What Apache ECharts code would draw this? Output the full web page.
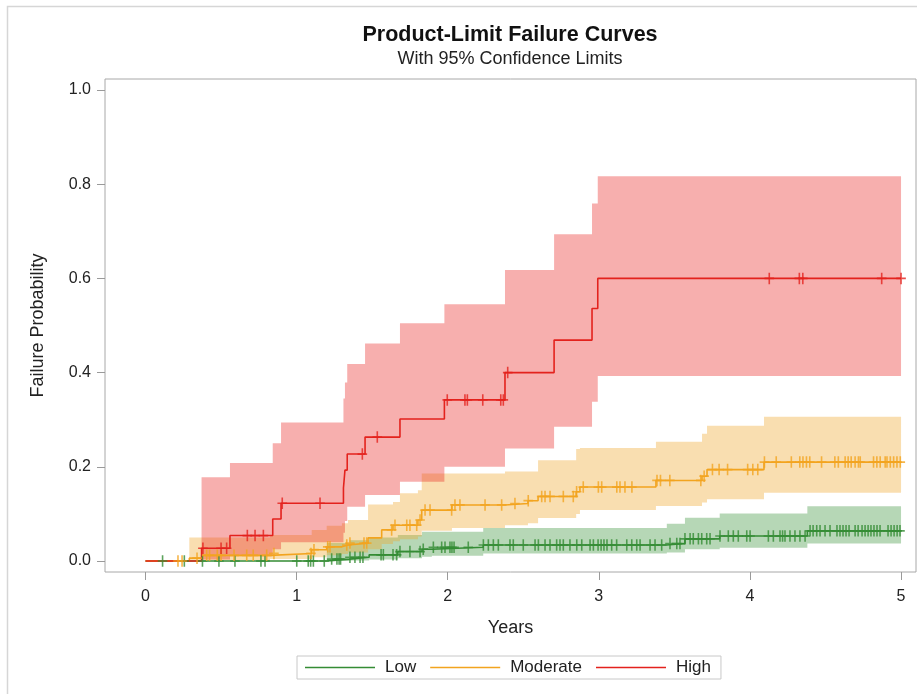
<!DOCTYPE html>
<html>
<head>
<meta charset="utf-8">
<title>Product-Limit Failure Curves</title>
<script src="https://cdn.jsdelivr.net/npm/echarts@6/dist/echarts.min.js"></script>
<style>
    html, body { margin: 0; padding: 0; background: #fff; }
    #chart { width: 917px; height: 694px; }
</style>
</head>
<body>
<div id="chart"></div>
<script>
// step points: time (years), failure estimate, 95% limits
var lowTime  = [0, 1.20, 1.35, 1.48, 1.67, 1.83, 1.895, 2.235, 3.45, 3.57, 3.80, 4.38, 5.0];
var lowFail  = [0, 0.004, 0.008, 0.013, 0.020, 0.025, 0.029, 0.034, 0.037, 0.047, 0.053, 0.064, 0.064];
var lowLower = [0, 0.000, 0.001, 0.003, 0.006, 0.009, 0.011, 0.016, 0.018, 0.025, 0.028, 0.037, 0.037];
var lowUpper = [0, 0.038, 0.044, 0.050, 0.055, 0.062, 0.062, 0.070, 0.079, 0.092, 0.101, 0.116, 0.116];

var modTime  = [0, 0.29, 0.372, 0.824, 1.10, 1.199, 1.30, 1.34, 1.473, 1.563, 1.638, 1.684, 1.803, 1.828, 2.028, 2.379, 2.531, 2.598, 2.85, 2.875, 3.378, 3.683, 3.716, 4.093, 5.0];
var modFail  = [0, 0.006, 0.012, 0.016, 0.024, 0.030, 0.034, 0.038, 0.049, 0.066, 0.076, 0.076, 0.087, 0.108, 0.119, 0.122, 0.128, 0.137, 0.147, 0.157, 0.171, 0.180, 0.194, 0.210, 0.210];
var modLower = [0, 0.001, 0.002, 0.004, 0.008, 0.012, 0.015, 0.018, 0.025, 0.036, 0.042, 0.046, 0.052, 0.064, 0.070, 0.076, 0.080, 0.091, 0.100, 0.108, 0.117, 0.124, 0.131, 0.145, 0.145];
var modUpper = [0, 0.050, 0.050, 0.055, 0.066, 0.075, 0.080, 0.087, 0.120, 0.120, 0.125, 0.144, 0.150, 0.186, 0.186, 0.190, 0.190, 0.214, 0.238, 0.240, 0.253, 0.270, 0.287, 0.306, 0.306];

var highTime  = [0, 0.371, 0.559, 0.842, 0.897, 1.31, 1.32, 1.335, 1.453, 1.684, 1.978, 2.379, 2.704, 2.955, 2.993, 5.0];
var highFail  = [0, 0.027, 0.054, 0.089, 0.1225, 0.155, 0.193, 0.227, 0.263, 0.3015, 0.342, 0.400, 0.469, 0.536, 0.600, 0.600];
var highLower = [0, 0.003, 0.010, 0.025, 0.040, 0.060, 0.085, 0.115, 0.140, 0.168, 0.200, 0.239, 0.285, 0.338, 0.393, 0.393];
var highUpper = [0, 0.178, 0.208, 0.250, 0.294, 0.345, 0.379, 0.418, 0.462, 0.505, 0.545, 0.618, 0.694, 0.759, 0.817, 0.817];

// censored times
var lowCensor = [0.113, 0.257, 0.377, 0.486, 0.592, 0.764, 0.791, 1.001, 1.077, 1.093, 1.111, 1.183, 1.232, 1.267, 1.281, 1.291,
    1.353, 1.386, 1.42, 1.439, 1.559, 1.574, 1.638, 1.662, 1.684, 1.75, 1.817, 1.838, 1.905, 1.96, 1.982, 2.015, 2.028, 2.042,
    2.136, 2.236, 2.269, 2.302, 2.335, 2.412, 2.434, 2.5, 2.578, 2.6, 2.644, 2.677, 2.721, 2.743, 2.765, 2.809, 2.854, 2.887,
    2.942, 2.964, 2.995, 3.015, 3.034, 3.054, 3.085, 3.118, 3.185, 3.218, 3.251, 3.273, 3.339, 3.372, 3.416, 3.471, 3.516,
    3.537, 3.57, 3.604, 3.625, 3.659, 3.681, 3.714, 3.736, 3.802, 3.857, 3.89, 3.923, 3.979, 4.001, 4.122, 4.155, 4.199,
    4.216, 4.232, 4.265, 4.298, 4.331, 4.365, 4.398, 4.418, 4.442, 4.464, 4.497, 4.53, 4.576, 4.596, 4.616, 4.636, 4.656,
    4.696, 4.716, 4.742, 4.762, 4.782, 4.801, 4.821, 4.841, 4.861, 4.914, 4.934, 4.954, 4.974, 4.993];
var modCensor = [0.215, 0.242, 0.341, 0.405, 0.424, 0.475, 0.50, 0.586, 0.67, 0.713, 0.802, 0.85, 1.095, 1.115, 1.206, 1.221,
    1.332, 1.353, 1.446, 1.464, 1.629, 1.651, 1.729, 1.75, 1.795, 1.817, 1.85, 1.883, 2.026, 2.048, 2.081, 2.247, 2.357, 2.445,
    2.533, 2.622, 2.644, 2.677, 2.765, 2.831, 2.853, 2.897, 2.997, 3.019, 3.119, 3.14, 3.173, 3.219, 3.385, 3.408, 3.47, 3.675,
    3.697, 3.752, 3.796, 3.852, 3.985, 4.019, 4.052, 4.096, 4.174, 4.274, 4.33, 4.351, 4.374, 4.396, 4.474, 4.562, 4.585,
    4.63, 4.65, 4.67, 4.696, 4.718, 4.73, 4.818, 4.84, 4.862, 4.895, 4.907, 4.929, 4.951, 4.973, 4.995];
var highCensor = [0.38, 0.50, 0.537, 0.674, 0.725, 0.78, 0.905, 1.155, 1.435, 1.534, 1.997, 2.114, 2.13, 2.232, 2.351, 2.368,
    2.397, 4.128, 4.327, 4.35, 4.872, 5.0];

var xTicks = [0, 1, 2, 3, 4, 5];
var yTicks = [0, 0.2, 0.4, 0.6, 0.8, 1.0];

var FONT = '"Liberation Sans", Arial, sans-serif';
var plusMark = 'path://M4,0h1.6v11h-1.6z M0,4.7h9.6v1.6h-9.6z';

function failAt(times, fail, t) {
    var v = 0;
    for (var i = 0; i < times.length; i++) {
        if (times[i] <= t) v = fail[i];
    }
    return v;
}

function pairs(xs, ys) {
    var out = [];
    for (var i = 0; i < xs.length; i++) out.push([xs[i], ys[i]]);
    return out;
}

// confidence band: one stepped polygon, upper edge then lower edge back
function bandSeries(name, times, lower, upper, fill) {
    var rows = [];
    for (var i = 0; i < times.length; i++) rows.push([times[i], lower[i], upper[i]]);
    return {
        name: name + ' band',
        type: 'custom',
        silent: true,
        z: 1,
        data: rows,
        encode: { x: 0, y: [1, 2] },
        renderItem: function (params, api) {
            if (params.dataIndex !== 0) return;
            var pts = [];
            var n = rows.length;
            for (var i = 0; i < n - 1; i++) {
                pts.push(api.coord([rows[i][0], rows[i][2]]));
                pts.push(api.coord([rows[i + 1][0], rows[i][2]]));
            }
            for (var j = n - 2; j >= 0; j--) {
                pts.push(api.coord([rows[j + 1][0], rows[j][1]]));
                pts.push(api.coord([rows[j][0], rows[j][1]]));
            }
            return {
                type: 'polygon',
                shape: { points: pts },
                style: { fill: fill, stroke: null }
            };
        }
    };
}

function curveSeries(name, times, fail, color) {
    return {
        name: name,
        type: 'line',
        step: 'end',
        symbol: 'none',
        color: color,
        lineStyle: { color: color, width: 1.6 },
        data: pairs(times, fail),
        z: 3
    };
}

function censorSeries(name, censor, times, fail, color) {
    var pts = [];
    for (var i = 0; i < censor.length; i++) pts.push([censor[i], failAt(times, fail, censor[i])]);
    return {
        name: name + ' censored',
        type: 'scatter',
        symbol: plusMark,
        symbolSize: [9.6, 11.5],
        itemStyle: { color: color },
        silent: true,
        data: pts,
        z: 4
    };
}

var GREEN = '#348c34';
var ORANGE = '#f2a41f';
var RED = '#e3221d';

var series = [
    bandSeries('Low', lowTime, lowLower, lowUpper, 'rgba(46,139,46,0.35)'),
    bandSeries('Moderate', modTime, modLower, modUpper, 'rgba(238,166,40,0.37)'),
    bandSeries('High', highTime, highLower, highUpper, 'rgba(232,34,30,0.36)'),
    curveSeries('Low', lowTime, lowFail, GREEN),
    curveSeries('Moderate', modTime, modFail, ORANGE),
    curveSeries('High', highTime, highFail, RED),
    censorSeries('Low', lowCensor, lowTime, lowFail, GREEN),
    censorSeries('Moderate', modCensor, modTime, modFail, ORANGE),
    censorSeries('High', highCensor, highTime, highFail, RED)
];

var chart = echarts.init(document.getElementById('chart'), null, { renderer: 'canvas' });
chart.setOption({
    animation: false,
    backgroundColor: '#fff',
    textStyle: { fontFamily: FONT },
    graphic: [{
        type: 'rect',
        silent: true,
        shape: { x: 7.5, y: 6.5, width: 1000, height: 1000 },
        style: { fill: 'none', stroke: '#d6d6d6', lineWidth: 1.5 }
    }],
    title: {
        text: 'Product-Limit Failure Curves',
        subtext: 'With 95% Confidence Limits',
        left: 505,
        top: 19,
        textAlign: 'center',
        itemGap: 4,
        textStyle: { fontFamily: FONT, fontSize: 21.5, fontWeight: 'bold', color: '#111' },
        subtextStyle: { fontFamily: FONT, fontSize: 18, color: '#222' }
    },
    legend: {
        data: ['Low', 'Moderate', 'High'],
        left: 297,
        top: 656,
        padding: [3, 10, 3, 8],
        itemGap: 14,
        itemWidth: 70,
        itemHeight: 1.6,
        icon: 'rect',
        borderColor: '#c8c8c8',
        borderWidth: 1,
        textStyle: { fontFamily: FONT, fontSize: 17, color: '#222', padding: [0, 0, 0, 5] }
    },
    grid: {
        left: 105,
        top: 79,
        right: 1,
        bottom: 122,
        show: true,
        borderColor: '#a8a8a8',
        borderWidth: 1,
        backgroundColor: 'transparent'
    },
    xAxis: {
        type: 'value',
        min: -0.268,
        max: 5.099,
        name: 'Years',
        nameLocation: 'middle',
        nameGap: 47,
        nameTextStyle: { fontFamily: FONT, fontSize: 18, color: '#222' },
        axisLine: { show: false, onZero: false },
        axisTick: { show: true, length: 8, customValues: xTicks, lineStyle: { color: '#9a9a9a' } },
        axisLabel: { customValues: xTicks, margin: 17, fontSize: 16, color: '#222', fontFamily: FONT },
        splitLine: { show: false }
    },
    yAxis: {
        type: 'value',
        min: -0.0234,
        max: 1.0234,
        name: 'Failure Probability',
        nameLocation: 'middle',
        nameGap: 58,
        nameTextStyle: { fontFamily: FONT, fontSize: 18, color: '#222' },
        axisLine: { show: false, onZero: false },
        axisTick: { show: true, length: 8, customValues: yTicks, lineStyle: { color: '#9a9a9a' } },
        axisLabel: {
            customValues: yTicks,
            margin: 14,
            fontSize: 16,
            color: '#222',
            fontFamily: FONT,
            formatter: function (v) { return v.toFixed(1); }
        },
        splitLine: { show: false }
    },
    series: series
});
</script>
</body>
</html>
